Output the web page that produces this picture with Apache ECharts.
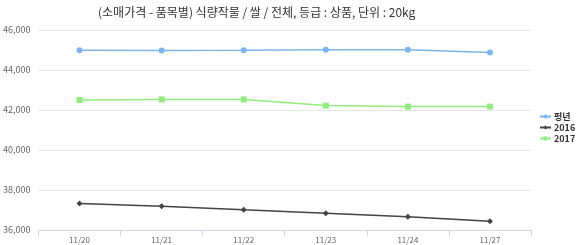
<!DOCTYPE html>
<html><head><meta charset="utf-8">
<script src="https://cdn.jsdelivr.net/npm/echarts@6/dist/echarts.min.js"></script>
<style>html,body{margin:0;padding:0;background:#fff}#c{width:580px;height:245px}</style>
</head><body><div id="c"></div>
<script>
const titleText = '(소매가격 - 품목별) 식량작물 / 쌀 / 전체, 등급 : 상품, 단위 : 20kg';
const categories = ['11/20','11/21','11/22','11/23','11/24','11/27'];
const seriesNames = ['평년','2016','2017'];
const avgValues = [44990, 44980, 44990, 45010, 45010, 44880];
const y2016Values = [37320, 37190, 37010, 36840, 36660, 36440];
const y2017Values = [42500, 42530, 42530, 42220, 42170, 42170];
const yMin = 36000, yMax = 46000, yInterval = 2000;

const chart = echarts.init(document.getElementById('c'), null, {renderer:'canvas'});
const font = '"Noto Sans CJK KR", "Noto Sans", sans-serif';
chart.setOption({
  animation:false,
  title:{text:titleText,left:93,top:1,textStyle:{fontSize:12,fontWeight:'normal',color:'#333',fontFamily:font}},
  legend:{orient:'vertical',left:534,top:107,itemWidth:11,itemHeight:5,itemGap:2,
    textStyle:{fontSize:9,fontWeight:'bold',color:'#333',fontFamily:font,padding:[0,0,0,-2]},
    data:seriesNames},
  grid:{left:33,right:49,top:30,bottom:15,containLabel:false},
  xAxis:{type:'category',data:categories,boundaryGap:true,
    axisLine:{lineStyle:{color:'#ccd6eb'}},
    axisTick:{show:true,length:6,lineStyle:{color:'#ccd6eb'}},
    axisLabel:{fontSize:8,color:'#666',margin:6,fontFamily:font}},
  yAxis:{type:'value',min:yMin,max:yMax,interval:yInterval,
    axisLine:{show:false},axisTick:{show:false},
    splitLine:{lineStyle:{color:'#e6e6e6'}},
    axisLabel:{fontSize:9,color:'#666',margin:8,fontFamily:font,
      formatter:v=>v.toLocaleString('en-US')}},
  series:[
    {name:seriesNames[0],type:'line',data:avgValues,symbol:'circle',symbolSize:6,
      itemStyle:{color:'#7cb5ec'},lineStyle:{width:1.5,color:'#7cb5ec'}},
    {name:seriesNames[1],type:'line',data:y2016Values,symbol:'diamond',symbolSize:6,
      itemStyle:{color:'#434348'},lineStyle:{width:1.5,color:'#434348'}},
    {name:seriesNames[2],type:'line',data:y2017Values,symbol:'rect',symbolSize:6,
      itemStyle:{color:'#90ed7d'},lineStyle:{width:1.5,color:'#90ed7d'}}
  ]
});
</script></body></html>
